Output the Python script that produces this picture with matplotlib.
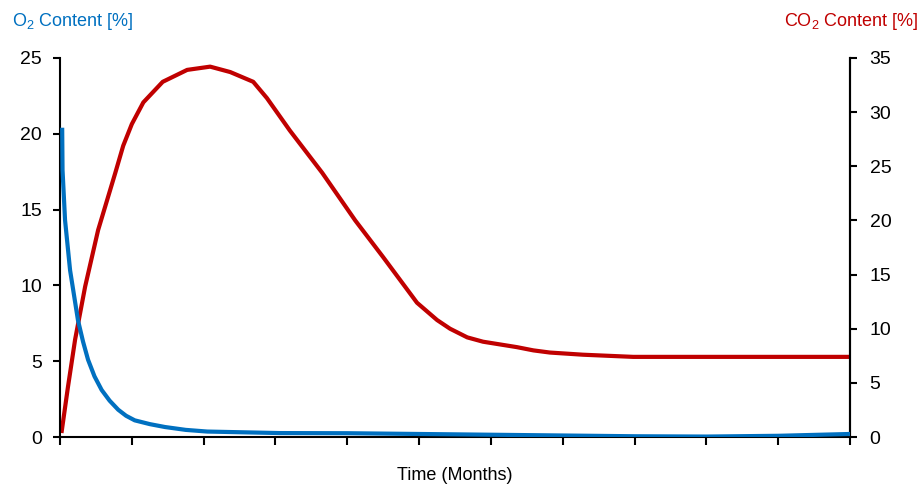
import numpy as np
import matplotlib.pyplot as plt

plt.rcParams['font.family'] = ['Liberation Sans Narrow', 'Liberation Sans', 'DejaVu Sans']
plt.rcParams['mathtext.default'] = 'regular'

# CO2 (right axis), time in tick intervals
t_co2 = [0.02, 0.11, 0.21, 0.35, 0.53, 0.77, 0.88, 1.00, 1.16, 1.43, 1.77,
         2.09, 2.37, 2.69, 2.88, 3.20, 3.65, 4.11, 4.50, 4.97, 5.25, 5.43,
         5.67, 5.89, 6.36, 6.59, 6.82, 7.28, 7.98, 9.0, 10.0, 11.0]
co2 = [0.37, 4.6, 9.0, 13.9, 19.1, 24.4, 26.9, 28.9, 30.9, 32.8, 33.9,
       34.2, 33.7, 32.8, 31.3, 28.3, 24.4, 20.0, 16.6, 12.4, 10.8, 10.0,
       9.2, 8.8, 8.3, 8.0, 7.8, 7.6, 7.4, 7.4, 7.4, 7.4]

# O2 (left axis)
t_o2 = [0.03, 0.035, 0.07, 0.14, 0.25, 0.32, 0.39, 0.48, 0.58, 0.69, 0.81,
        0.92, 1.04, 1.25, 1.46, 1.75, 2.05, 3.06, 4.0, 5.0, 6.0, 7.0, 8.0,
        9.0, 10.0, 11.0]
o2 = [20.4, 17.6, 14.3, 11.0, 7.7, 6.3, 5.1, 4.0, 3.1, 2.4, 1.8,
      1.4, 1.1, 0.85, 0.66, 0.47, 0.36, 0.26, 0.25, 0.2, 0.15, 0.1, 0.05,
      0.03, 0.08, 0.2]

blue = '#0070C0'
red = '#C00000'

fig = plt.figure(figsize=(9.22, 4.86), dpi=100)
ax = fig.add_axes([0.0651, 0.1008, 0.8569, 0.7799])
ax2 = ax.twinx()

ax.plot(t_o2, o2, color=blue, lw=3, solid_capstyle='butt', solid_joinstyle='round', zorder=3)
ax2.plot(t_co2, co2, color=red, lw=3, solid_capstyle='butt', solid_joinstyle='round')
ax.set_zorder(ax2.get_zorder() + 1)
ax.patch.set_visible(False)

ax.set_xlim(0, 11)
ax.set_ylim(0, 25)
ax2.set_ylim(0, 35)
ax.set_xticks(range(12))
ax.set_xticklabels([])
ax.set_yticks(range(0, 26, 5))
ax2.set_yticks(range(0, 36, 5))

for a in (ax, ax2):
    a.spines['top'].set_visible(False)
    for s in a.spines.values():
        s.set_linewidth(1.5)
        s.set_color('black')
ax2.spines['left'].set_visible(False)
ax2.spines['bottom'].set_visible(False)

ax.tick_params(axis='y', direction='out', length=5, width=1.5, pad=8, labelsize=14)
ax.tick_params(axis='x', direction='out', length=6, width=1.5)
ax2.tick_params(axis='y', direction='out', length=5, width=1.5, pad=9, labelsize=14)

fig.text(0.013, 0.955, 'O$_2$ Content [%]', color=blue, fontsize=13, ha='left', va='center')
fig.text(0.996, 0.955, 'CO$_2$ Content [%]', color=red, fontsize=13, ha='right', va='center')
fig.text(0.493, 0.022, 'Time (Months)', fontsize=13, ha='center', va='center')

fig.savefig('out.png', dpi=100)
